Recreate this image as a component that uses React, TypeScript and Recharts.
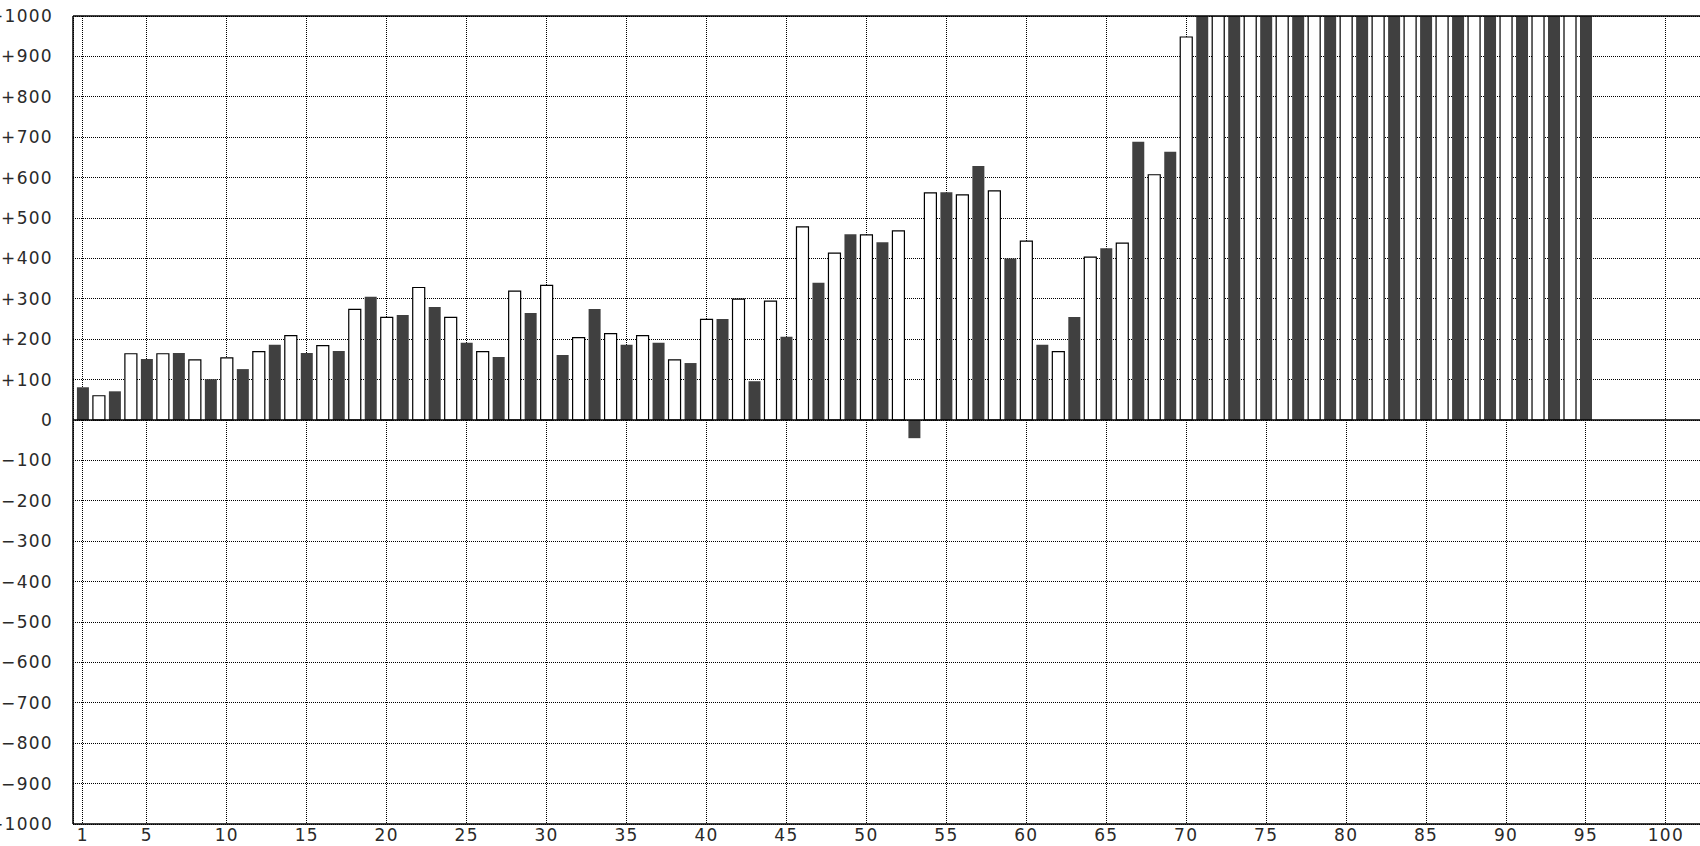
import React from 'react'
import { BarChart, Bar, Cell, XAxis, YAxis, CartesianGrid, ReferenceLine } from 'recharts'

// values for categories 1..95 (71+ run off the top of the chart)
const values = [
  81, 60, 71, 164, 151, 164, 166, 149, 101, 154,
  126, 169, 186, 209, 166, 184, 171, 274, 305, 254,
  260, 328, 280, 254, 191, 169, 156, 319, 265, 333,
  161, 204, 275, 214, 186, 209, 191, 149, 141, 249,
  250, 299, 96, 294, 206, 478, 340, 413, 460, 458,
  440, 468, -45, 562, 564, 557, 629, 567, 400, 443,
  186, 169, 255, 403, 425, 438, 689, 607, 664, 948,
  1000, 1000, 1000, 1000, 1000, 1000, 1000, 1000, 1000, 1000,
  1000, 1000, 1000, 1000, 1000, 1000, 1000, 1000, 1000, 1000,
  1000, 1000, 1000, 1000, 1000,
]

const xTicks = [1, 5, 10, 15, 20, 25, 30, 35, 40, 45, 50, 55, 60, 65, 70, 75, 80, 85, 90, 95, 100]
const yTicks = [
  -1000, -900, -800, -700, -600, -500, -400, -300, -200, -100, 0,
  100, 200, 300, 400, 500, 600, 700, 800, 900, 1000,
]

const DARK = '#404040'
const FONT = { fontFamily: 'DejaVu Sans', fontSize: 17, fill: '#2a2a2a', letterSpacing: 1.3 }

const data = values.map((v, i) => ({ n: i + 1, value: v }))

const fmtY = (v: number) => (v > 0 ? `+${v}` : v < 0 ? `\u2212${Math.abs(v)}` : '0')

export default function App() {
  return (
    <div style={{ position: 'absolute', left: 0, top: 0, background: '#fff' }}>
      <BarChart
        width={1700}
        height={846}
        data={data}
        margin={{ top: 16, right: 0, bottom: 0, left: 0 }}
      >
        <CartesianGrid
          stroke="#000"
          strokeDasharray="1 1"
          shapeRendering="crispEdges"
        />
        <XAxis
          dataKey="n"
          type="number"
          domain={[0.38, 102.13]}
          ticks={xTicks}
          interval={0}
          height={22}
          tickLine={false}
          tickSize={0}
          tickMargin={5}
          axisLine={{ stroke: '#000', strokeWidth: 1.5 }}
          tick={FONT}
          allowDataOverflow
        />
        <YAxis
          type="number"
          domain={[-1000, 1000]}
          ticks={yTicks}
          interval={0}
          width={73}
          tickLine={false}
          tickSize={0}
          tickMargin={20}
          axisLine={{ stroke: '#000', strokeWidth: 1.5 }}
          tick={FONT}
          tickFormatter={fmtY}
          allowDataOverflow
        />
        <Bar dataKey="value" barSize={12} isAnimationActive={false}>
          {data.map((d, i) => (
            <Cell
              key={`c-${i}`}
              fill={d.n % 2 === 1 ? DARK : '#fff'}
              stroke={d.n % 2 === 1 ? 'none' : '#000'}
              strokeWidth={1.2}
            />
          ))}
        </Bar>
        <ReferenceLine y={0} stroke="#000" strokeWidth={1.3} />
        <ReferenceLine y={1000} stroke="#000" strokeWidth={1.5} />
      </BarChart>
    </div>
  )
}
